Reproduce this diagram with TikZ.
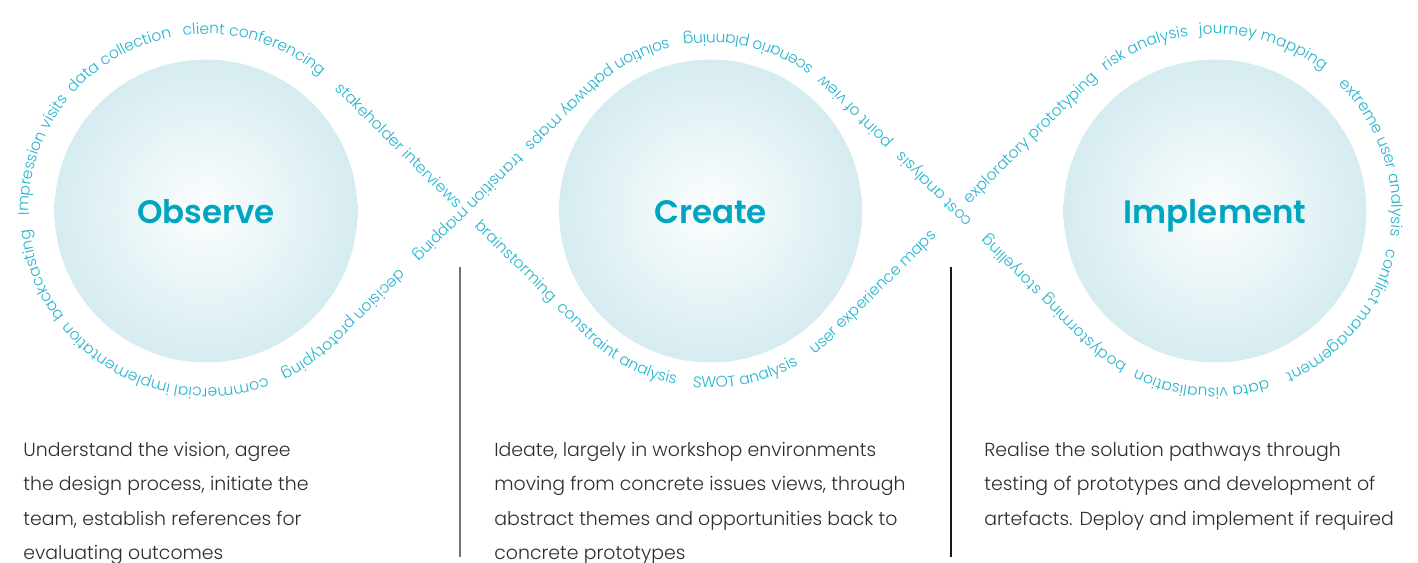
\documentclass[tikz,border=0pt]{standalone}
\usepackage{fontspec}
\setmainfont{Poppins Light}
\newfontfamily\headfont{Poppins SemiBold}
\usetikzlibrary{calc,decorations.text}

\definecolor{wordblue}{RGB}{35,180,205}
\definecolor{headblue}{RGB}{0,165,192}
\definecolor{bubblefill}{RGB}{186,223,230}
\definecolor{blurbgray}{RGB}{45,45,45}

\pgfdeclareradialshading{bubble}{\pgfpoint{0bp}{0bp}}{color(0bp)=(bubblefill!5); color(12bp)=(bubblefill!30); color(30bp)=(bubblefill!72); color(44bp)=(bubblefill!95); color(50bp)=(bubblefill)}

% loop for the small words: round obs, across, under cre, across, round imp, back over cre
\newcommand\rr{177}
\newcommand\tn{45.44}
\newcommand\loopline{($(obs)+(177:\rr)$) arc[start angle=177, end angle=360-\tn, radius=\rr]
  -- ($(cre)+(180-\tn:\rr)$) arc[start angle=180-\tn, end angle=\tn, radius=\rr]
  -- ($(imp)+(180+\tn:\rr)$) arc[start angle=180+\tn, end angle=540-\tn, radius=\rr]
  -- ($(cre)+(360-\tn:\rr)$) arc[start angle=360-\tn, end angle=180+\tn, radius=\rr]
  -- ($(obs)+(\tn:\rr)$) arc[start angle=\tn, end angle=177, radius=\rr]}

% #1 = where the word's middle sits, px along the loop counted from the left of obs
\newcommand\tagword[2]{%
  \pgfmathsetlengthmacro\wordstart{(#1+9.27)*0.56906pt-width("#2")/2}%
  \path[tagtext, decoration={text={#2}, text align={left indent=\wordstart}}] \loopline;}

\begin{document}
\begin{tikzpicture}[x=0.02cm, y=-0.02cm,
  bubble/.style={circle, minimum size=6.06cm, inner sep=0pt, shade, shading=bubble,
    text=headblue, text height=14pt, text depth=0.3pt,
    font=\headfont\fontsize{18.5pt}{20pt}\selectfont},
  tagtext/.style={decorate, decoration={text along path, text color=wordblue}},
  blurb/.style={anchor=north west, inner sep=0pt, align=left, text=blurbgray,
    font=\fontsize{10.75pt}{19.6pt}\selectfont},
  rule/.style={line width=0.85pt}]
\useasboundingbox (0,0) rectangle (1418,563);

\node[bubble] (obs) at (206,211) {Observe};
\node[bubble] (cre) at (710.5,211) {Create};
\node[bubble] (imp) at (1215,211) {Implement};

\begin{scope}
\fontsize{8.8pt}{10pt}\selectfont
\tagword{58}{Impression visits}
\tagword{186}{data collection}
\tagword{329}{client conferencing}
\tagword{507}{stakeholder interviews}
\tagword{672}{brainstorming}
\tagword{806}{constraint analysis}
\tagword{950}{SWOT analysis}
\tagword{1109}{user experience maps}
\tagword{1330}{exploratory prototyping}
\tagword{1476}{risk analysis}
\tagword{1598}{journey mapping}
\tagword{1768}{extreme user analysis}
\tagword{1948}{conflict management}
\tagword{2118}{data visualisation}
\tagword{2250}{bodystorming}
\tagword{2349}{storyelling}
\tagword{2457}{cost analysis}
\tagword{2568}{point of view}
\tagword{2698}{scenario planning}
\tagword{2872}{solution pathway maps}
\tagword{3047}{transition mapping}
\tagword{3218}{decision prototyping}
\tagword{3422}{commercial implementation}
\tagword{3586}{backcasting}
\end{scope}

\node[blurb] (obstext) at (23,442) {Understand the vision, agree\\the design process, initiate the\\team, establish references for\\evaluating outcomes};
\node[blurb] (cretext) at (494,442) {Ideate, largely in workshop environments\\moving from concrete issues views, through\\abstract themes and opportunities back to\\concrete prototypes};
\node[blurb] (imptext) at (984,442) {Realise the solution pathways through\\testing of prototypes and development of\\artefacts. Deploy and implement if required};

\draw[rule, black!55] (460,267) -- (460,557);
\draw[rule, black!90] (951,267) -- (951,557);
\end{tikzpicture}
\end{document}
